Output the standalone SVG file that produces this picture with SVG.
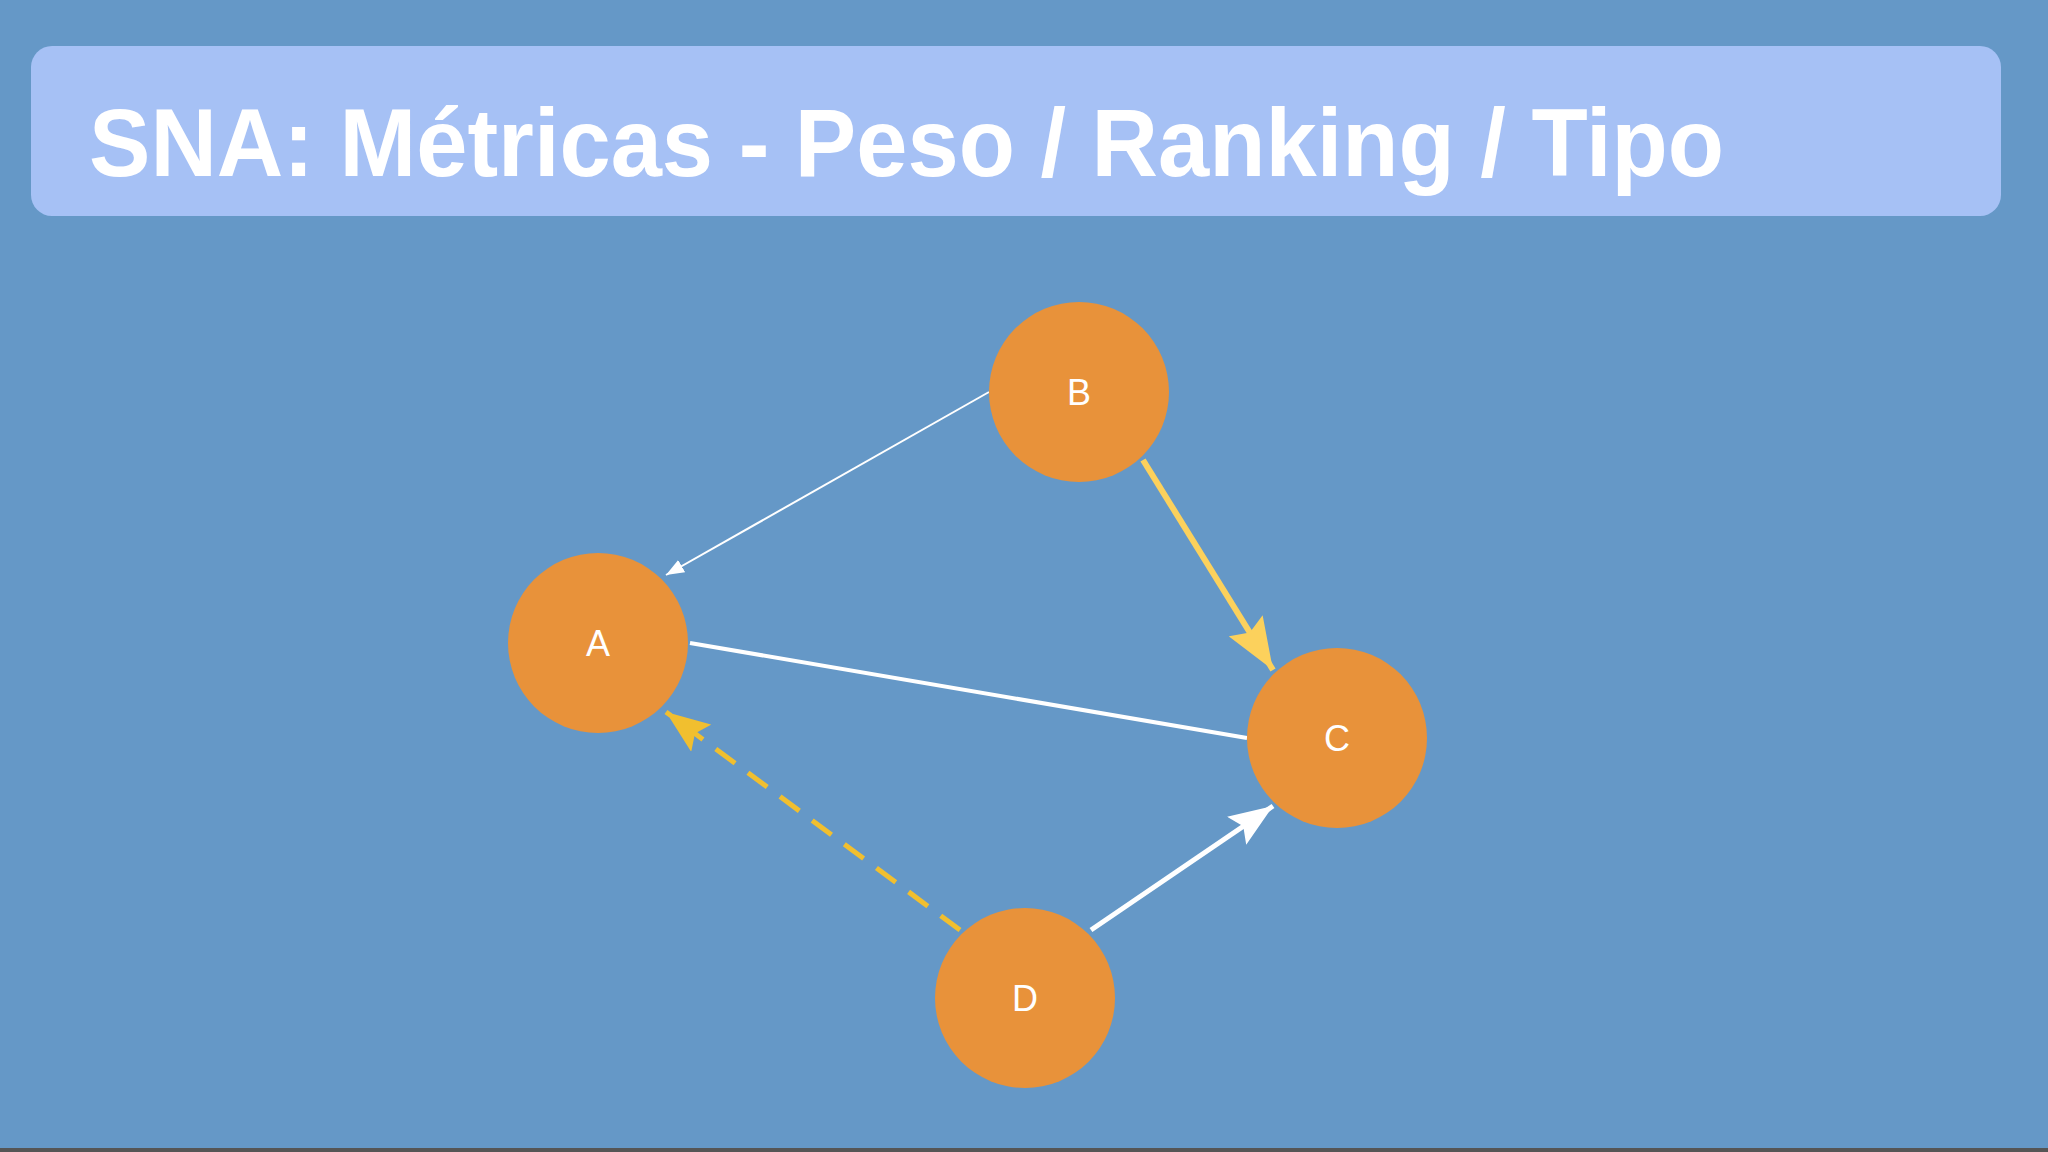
<svg xmlns="http://www.w3.org/2000/svg" width="2048" height="1152" viewBox="0 0 2048 1152">
<defs>
<style>
.node circle{fill:#e8923a}
.node text{font-family:"Liberation Sans",Arial,sans-serif;font-size:36px;fill:#fff;text-anchor:middle;dominant-baseline:central}
</style>
<marker id="aw" markerUnits="userSpaceOnUse" markerWidth="20" markerHeight="14" refX="18" refY="7" orient="auto"><path d="M0,0 L18,7 L0,14 Z" fill="#fff"/></marker>
<marker id="aw2" markerUnits="userSpaceOnUse" markerWidth="46" markerHeight="34" refX="44" refY="17" orient="auto"><path d="M0,0 L44,17 L0,34 L8,17 Z" fill="#fff"/></marker>
<marker id="ay" markerUnits="userSpaceOnUse" markerWidth="54" markerHeight="40" refX="52" refY="20" orient="auto"><path d="M0,0 L52,20 L0,40 L8,20 Z" fill="#fcd15c"/></marker>
<marker id="ad" markerUnits="userSpaceOnUse" markerWidth="46" markerHeight="34" refX="44" refY="17" orient="auto"><path d="M0,0 L44,17 L0,34 L8,17 Z" fill="#f1bf2f"/></marker>
</defs>
<rect width="2048" height="1152" fill="#6598c7"/>
<rect x="0" y="1148" width="2048" height="4" fill="#555"/>
<rect x="31" y="46" width="1970" height="170" rx="21" fill="#a6c1f5"/>
<text x="89" y="176" font-family="'Liberation Sans',Arial,sans-serif" font-weight="bold" font-size="96" fill="#fff" textLength="1635" lengthAdjust="spacingAndGlyphs">SNA: Métricas - Peso / Ranking / Tipo</text>
<g id="connectors" fill="none">
<line x1="989" y1="392" x2="666" y2="575" stroke="#fff" stroke-width="2" marker-end="url(#aw)"/>
<line x1="1143" y1="460" x2="1273" y2="670" stroke="#fcd15c" stroke-width="6" marker-end="url(#ay)"/>
<line x1="690" y1="643" x2="1247" y2="738" stroke="#fff" stroke-width="4"/>
<line x1="1091" y1="930" x2="1273" y2="806" stroke="#fff" stroke-width="5" marker-end="url(#aw2)"/>
<line x1="960" y1="930" x2="666" y2="712" stroke="#f1bf2f" stroke-width="5" stroke-dasharray="24,16" marker-end="url(#ad)"/>
</g>
<g id="B" class="node"><circle cx="1079" cy="392" r="90"/><text x="1079" y="392">B</text></g>
<g id="A" class="node"><circle cx="598" cy="643" r="90"/><text x="598" y="643">A</text></g>
<g id="C" class="node"><circle cx="1337" cy="738" r="90"/><text x="1337" y="738">C</text></g>
<g id="D" class="node"><circle cx="1025" cy="998" r="90"/><text x="1025" y="998">D</text></g>
</svg>
